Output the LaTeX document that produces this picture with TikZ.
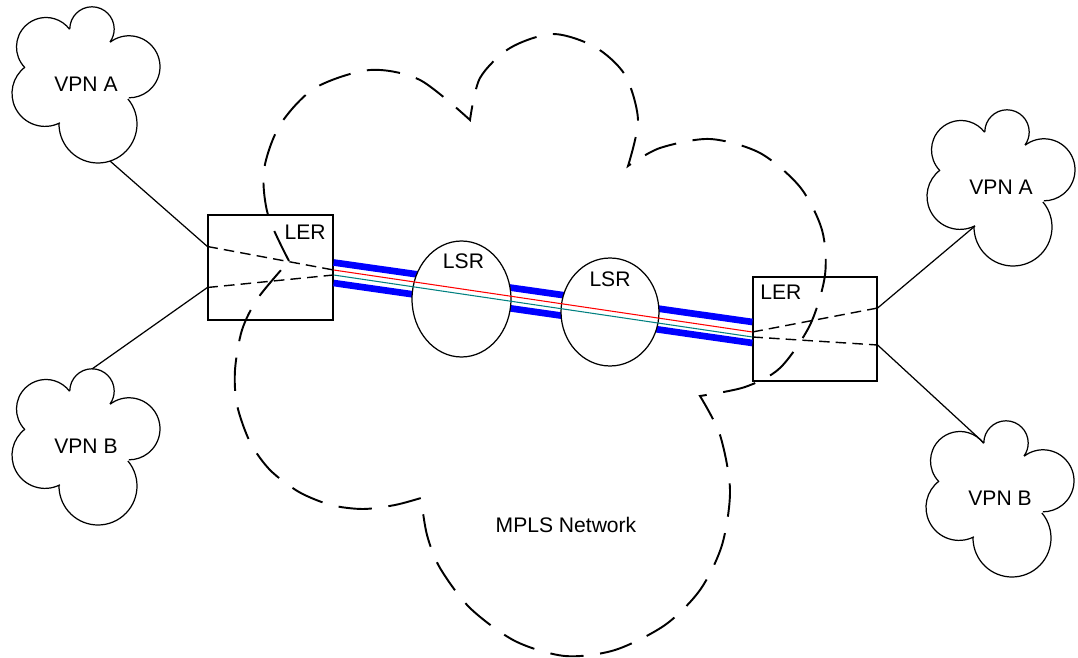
\documentclass[tikz,border=0pt]{standalone}
\usepackage{fontspec}
\setmainfont{Liberation Sans}
\usetikzlibrary{shapes.geometric,calc}

\begin{document}
\begin{tikzpicture}[x=0.02cm,y=-0.02cm,
  font=\fontsize{12}{14}\selectfont,
  txt/.style={inner sep=0pt},
  ler/.style={draw,line width=0.7pt,inner sep=0pt},
  lsr/.style={draw,ellipse,fill=white,line width=0.7pt,inner sep=0pt},
  access/.style={line width=0.7pt},
  lsppath/.style={line width=0.8pt,dash pattern=on 6pt off 3.5pt},
  tunnel/.style={draw=blue,line width=3.8pt},
  redlsp/.style={draw=red,line width=0.6pt},
  tealsp/.style={draw=teal,line width=0.6pt},
  mpls/.style={line width=1.1pt,dash pattern=on 19pt off 9.5pt},
  vpn/.pic={
    \draw[access] (7,-56) ++(180:22.2) arc[start angle=180,end angle=395.8,radius=22.2]
      (44,-18.2) ++(232.5:31) arc[start angle=232.5,end angle=450,radius=31]
      (13,39) ++(320:39) arc[start angle=320,end angle=541.5,radius=39]
      (-40,8.4) ++(63.1:33) arc[start angle=63.1,end angle=232.8,radius=33]
      (-39,-38) ++(136.4:29.5) arc[start angle=136.4,end angle=323.1,radius=29.5];
    \coordinate (-top) at (7,-78);
    \coordinate (-bot) at (25,76);
    \coordinate (-nw) at (-15,-56);
    \coordinate (-sw) at (-25,38);
  }]
\useasboundingbox (0,0) rectangle (1078,658);

% MPLS cloud
\draw[mpls] plot[smooth] coordinates {(289,261) (268,215) (264,170) (280,125) (315,88) (370,70) (420,80) (470,120)}
  -- plot[smooth] coordinates {(470,120) (480,78) (510,48) (553,34) (595,47) (625,75) (638,120) (628,166)}
  -- plot[smooth] coordinates {(628,166) (660,148) (710,139) (760,153) (800,187) (822,230) (825,275) (810,325) (780,368) (745,387) (700,396)}
  -- plot[smooth] coordinates {(700,396) (720,435) (730,490) (722,545) (700,590) (665,625) (615,650) (565,656) (515,641) (470,608) (440,568) (427,535) (421,498)}
  -- plot[smooth] coordinates {(421,498) (395,505) (363,509) (331,505) (299,492) (270,470) (250,442) (237,405) (235,370) (242,330) (258,298) (289,261)};
\node[txt] (mplstxt) at (566,525) {MPLS Network};

% edge routers
\node[ler,minimum width=2.5cm,minimum height=2.1cm] (lerL) at (270.5,267.5) {};
\node[ler,minimum width=2.48cm,minimum height=2.08cm] (lerR) at (815,329) {};
\node[txt,anchor=north east] (lerLtxt) at (326,225) {LER};
\node[txt,anchor=north west] (lerRtxt) at (760,285) {LER};

% tunnel
\draw[tunnel] ($(lerL.east)+(0,-5)$) -- ($(lerR.west)+(0,-7)$);
\draw[tunnel] ($(lerL.east)+(0,15.5)$) -- ($(lerR.west)+(0,14)$);

% switch routers
\node[lsr,minimum width=1.98cm,minimum height=2.32cm] (lsrA) at (461.5,299) {};
\node[lsr,minimum width=1.96cm,minimum height=2.16cm] (lsrB) at (610,312) {};
\node[txt] (lsrAtxt) at (463.5,261) {LSR};
\node[txt] (lsrBtxt) at (610,279.5) {LSR};

\draw[redlsp] ($(lerL.east)+(0,2.5)$) -- ($(lerR.west)+(0,3)$);
\draw[tealsp] ($(lerL.east)+(0,7.5)$) -- ($(lerR.west)+(0,8)$);

% VPN sites
\pic (vAL) at (85,85) {vpn};
\pic (vBL) at (85,447) {vpn};
\pic (vAR) at (1000,188) {vpn};
\pic (vBR) at (999,499) {vpn};
\node[txt] (vALtxt) at (86,84) {VPN A};
\node[txt] (vBLtxt) at (86,446) {VPN B};
\node[txt] (vARtxt) at (1001,187) {VPN A};
\node[txt] (vBRtxt) at (1000,498) {VPN B};

\draw[access] (vAL-bot) -- ($(lerL.west)+(0,-21)$);
\draw[access] (vBL-top) -- ($(lerL.west)+(0,20)$);
\draw[access] (vAR-sw) -- ($(lerR.east)+(0,-21)$);
\draw[access] (vBR-nw) -- ($(lerR.east)+(0,16)$);

\draw[lsppath] ($(lerL.west)+(0,-21)$) -- ($(lerL.east)+(0,2.5)$);
\draw[lsppath] ($(lerL.west)+(0,20)$) -- ($(lerL.east)+(0,7.5)$);
\draw[lsppath] ($(lerR.west)+(0,3)$) -- ($(lerR.east)+(0,-21)$);
\draw[lsppath] ($(lerR.west)+(0,8)$) -- ($(lerR.east)+(0,16)$);
\end{tikzpicture}
\end{document}
